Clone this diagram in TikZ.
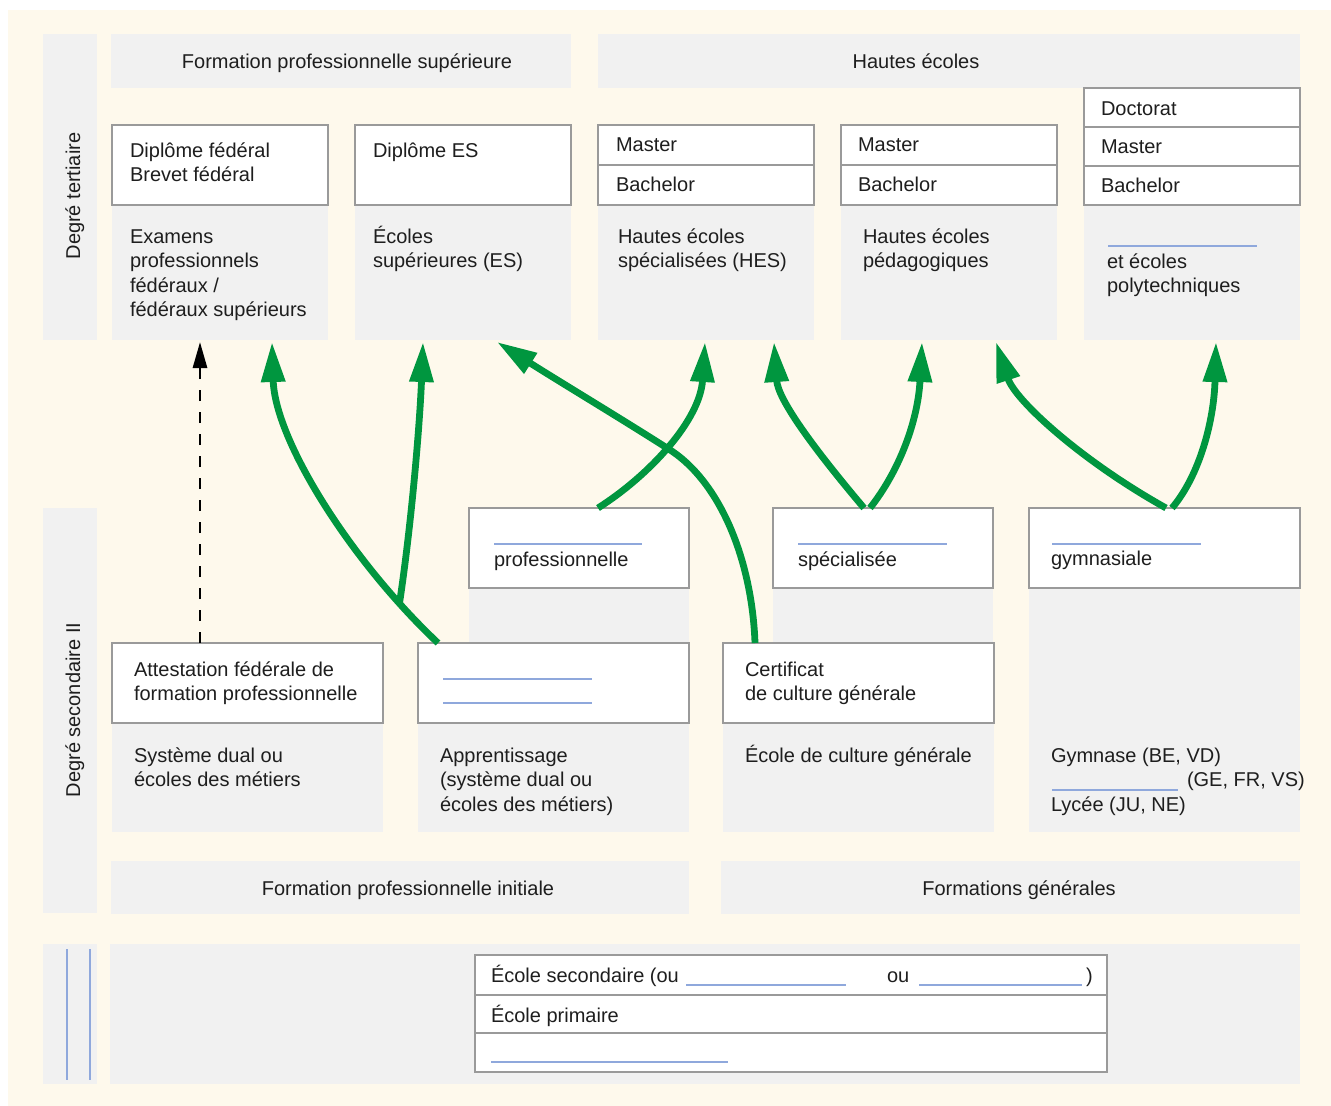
\documentclass[tikz,border=0pt]{standalone}
\usepackage{fontspec}
\setmainfont{Liberation Sans}
\usetikzlibrary{arrows.meta,calc}
\definecolor{cream}{HTML}{FEF9EC}
\definecolor{panelgray}{HTML}{F1F1F1}
\definecolor{boxline}{HTML}{9A9A9A}
\definecolor{grn}{HTML}{00963F}
\definecolor{blankc}{HTML}{8FA8DC}
\definecolor{ink}{HTML}{1E1E1E}
\newcommand\tp{\rule{0pt}{19pt}}
\newcommand\rectnode[6]{\node[#1, anchor=north west, minimum width={(#5-#3)*1pt}, minimum height={(#6-#4)*1pt}] (#2) at (#3,#4) {};}
\tikzset{
  panel/.style={fill=panelgray, draw=none, inner sep=0pt, outer sep=0pt},
  wbox/.style={fill=white, draw=boxline, line width=1.3pt, inner sep=0pt, outer sep=0pt},
  tx/.style={anchor=north west, inner sep=0pt, outer sep=0pt, align=left, text=ink, font=\fontsize{20}{24.5}\selectfont},
  hd/.style={anchor=base, inner sep=0pt, outer sep=0pt, text=ink, font=\fontsize{20}{24.5}\selectfont},
  blankline/.style={draw=blankc, line width=1.2pt},
  garrow/.style={draw=grn, line width=6.8pt, -{Triangle[length=40pt,width=23pt]}},
  darrow/.style={draw=black, line width=2.8pt, dash pattern=on 11pt off 11pt, -{Triangle[length=26pt,width=14pt]}}
}
\begin{document}
\begin{tikzpicture}[x=1pt,y=-1pt]
\useasboundingbox (0,0) rectangle (1331,1106);
\fill[white] (0,0) rectangle (1331,1106);
\fill[cream] (8,10) rectangle (1331,1106);
% side bands
\rectnode{panel}{bandT}{43}{34}{97}{340}
\rectnode{panel}{bandS}{43}{508}{97}{913}
\rectnode{panel}{bandP}{43}{944}{97}{1084}
\node[hd, rotate=90] (lblT) at (80,196) {Degré tertiaire};
\node[hd, rotate=90] (lblS) at (80,710) {Degré secondaire II};
\draw[blankline] (67,949) -- (67,1080);
\draw[blankline] (90,949) -- (90,1080);
% headers
\rectnode{panel}{hFPS}{111}{34}{571}{88}
\rectnode{panel}{hHE}{598}{34}{1300}{88}
\rectnode{panel}{hFPI}{111}{861}{689}{914}
\rectnode{panel}{hFG}{721}{861}{1300}{914}
\node[hd] (thFPS) at (347,68) {Formation professionnelle supérieure};
\node[hd] (thHE) at (916,68) {Hautes écoles};
\node[hd] (thFPI) at (408,895) {Formation professionnelle initiale};
\node[hd] (thFG) at (1019,895) {Formations générales};
% tertiary panels
\rectnode{panel}{p1}{112}{125}{328}{340}
\rectnode{panel}{p2}{355}{125}{571}{340}
\rectnode{panel}{p3}{598}{125}{814}{340}
\rectnode{panel}{p4}{841}{125}{1057}{340}
\rectnode{panel}{p5}{1084}{88}{1300}{340}
\rectnode{wbox}{w1}{112}{125}{328}{205}
\rectnode{wbox}{w2}{355}{125}{571}{205}
\rectnode{wbox}{w3a}{598}{125}{814}{165}
\rectnode{wbox}{w3b}{598}{165}{814}{205}
\rectnode{wbox}{w4a}{841}{125}{1057}{165}
\rectnode{wbox}{w4b}{841}{165}{1057}{205}
\rectnode{wbox}{w5a}{1084}{88}{1300}{127}
\rectnode{wbox}{w5b}{1084}{127}{1300}{166}
\rectnode{wbox}{w5c}{1084}{166}{1300}{205}
\node[tx] (t1a) at (130,138) {\tp Diplôme fédéral\\Brevet fédéral};
\node[tx] (t1b) at (130,224) {\tp Examens\\professionnels\\fédéraux /\\fédéraux supérieurs};
\node[tx] (t2a) at (373,138) {\tp Diplôme ES};
\node[tx] (t2b) at (373,224) {\tp Écoles\\supérieures (ES)};
\node[tx] (t3a) at (616,132) {\tp Master};
\node[tx] (t3b) at (616,172) {\tp Bachelor};
\node[tx] (t3c) at (618,224) {\tp Hautes écoles\\spécialisées (HES)};
\node[tx] (t4a) at (858,132) {\tp Master};
\node[tx] (t4b) at (858,172) {\tp Bachelor};
\node[tx] (t4c) at (863,224) {\tp Hautes écoles\\pédagogiques};
\node[tx] (t5a) at (1101,96) {\tp Doctorat};
\node[tx] (t5b) at (1101,134) {\tp Master};
\node[tx] (t5c) at (1101,173) {\tp Bachelor};
\node[tx] (t5d) at (1107,249) {\tp et écoles\\polytechniques};
\draw[blankline] (1108,246) -- (1257,246);
% secondary panels
\rectnode{panel}{pA}{112}{643}{383}{832}
\rectnode{panel}{pBp}{469}{508}{689}{643}
\rectnode{panel}{pB}{418}{643}{689}{832}
\rectnode{panel}{pCp}{773}{508}{993}{643}
\rectnode{panel}{pC}{723}{643}{994}{832}
\rectnode{panel}{pD}{1029}{508}{1300}{832}
\rectnode{wbox}{wA}{112}{643}{383}{723}
\rectnode{wbox}{wB}{418}{643}{689}{723}
\rectnode{wbox}{wBp}{469}{508}{689}{588}
\rectnode{wbox}{wC}{723}{643}{994}{723}
\rectnode{wbox}{wCp}{773}{508}{993}{588}
\rectnode{wbox}{wD}{1029}{508}{1300}{588}
\node[tx] (tA1) at (134,657) {\tp Attestation fédérale de\\formation professionnelle};
\node[tx] (tA2) at (134,743) {\tp Système dual ou\\écoles des métiers};
\draw[blankline] (443,679) -- (592,679);
\draw[blankline] (443,703) -- (592,703);
\node[tx] (tB2) at (440,743) {\tp Apprentissage\\(système dual ou\\écoles des métiers)};
\draw[blankline] (494,544) -- (642,544);
\node[tx] (tB1) at (494,547) {\tp professionnelle};
\node[tx] (tC1) at (745,657) {\tp Certificat\\de culture générale};
\node[tx] (tC2) at (745,743) {\tp École de culture générale};
\draw[blankline] (798,544) -- (947,544);
\node[tx] (tC3) at (798,547) {\tp spécialisée};
\draw[blankline] (1052,544) -- (1201,544);
\node[tx] (tD1) at (1051,546) {\tp gymnasiale};
\node[tx] (tD2) at (1051,743) {\tp Gymnase (BE, VD)\\\hspace*{136pt}(GE, FR, VS)\\Lycée (JU, NE)};
\draw[blankline] (1052,790) -- (1178,790);
% compulsory school
\rectnode{panel}{bigP}{110}{944}{1300}{1084}
\rectnode{wbox}{r1}{475}{955}{1107}{995}
\rectnode{wbox}{r2}{475}{995}{1107}{1033}
\rectnode{wbox}{r3}{475}{1033}{1107}{1072}
\node[tx] (tP1) at (491,963) {\tp École secondaire (ou};
\node[tx] (tP2) at (887,963) {\tp ou};
\node[tx] (tP3) at (1086,963) {\tp )};
\draw[blankline] (686,985) -- (846,985);
\draw[blankline] (919,985) -- (1082,985);
\node[tx] (tP4) at (491,1003) {\tp École primaire};
\draw[blankline] (491,1062) -- (728,1062);
% arrows
\draw[darrow] ([xshift=88pt]wA.north west) -- ([xshift=88pt,yshift=-2pt]p1.south west);
\draw[garrow] ([xshift=20pt]wB.north west) .. controls (350,560) and (275,440) .. ([xshift=160pt,yshift=-2pt]p1.south west) coordinate[pos=0.15] (br);
\draw[garrow] (br) .. controls (412,520) and (420,420) .. ([xshift=68pt,yshift=-2pt]p2.south west);
\draw[garrow] ([xshift=32pt]wC.north west) .. controls (752,560) and (720,480) .. (667,448) .. controls (620,418) and (560,382) .. ([xshift=142pt,yshift=-2pt]p2.south west);
\draw[garrow] ([xshift=129pt]wBp.north west) .. controls (650,475) and (700,420) .. ([xshift=107pt,yshift=-2pt]p3.south west);
\draw[garrow] ([xshift=91pt]wCp.north west) .. controls (815,450) and (778,400) .. ([xshift=176pt,yshift=-2pt]p3.south west);
\draw[garrow] ([xshift=97pt]wCp.north west) .. controls (900,470) and (918,420) .. ([xshift=81pt,yshift=-2pt]p4.south west);
\draw[garrow] ([xshift=137pt]wD.north west) .. controls (1080,460) and (1015,400) .. ([xshift=155pt,yshift=-2pt]p4.south west);
\draw[garrow] ([xshift=143pt]wD.north west) .. controls (1200,475) and (1214,420) .. ([xshift=132pt,yshift=-2pt]p5.south west);
\end{tikzpicture}
\end{document}
